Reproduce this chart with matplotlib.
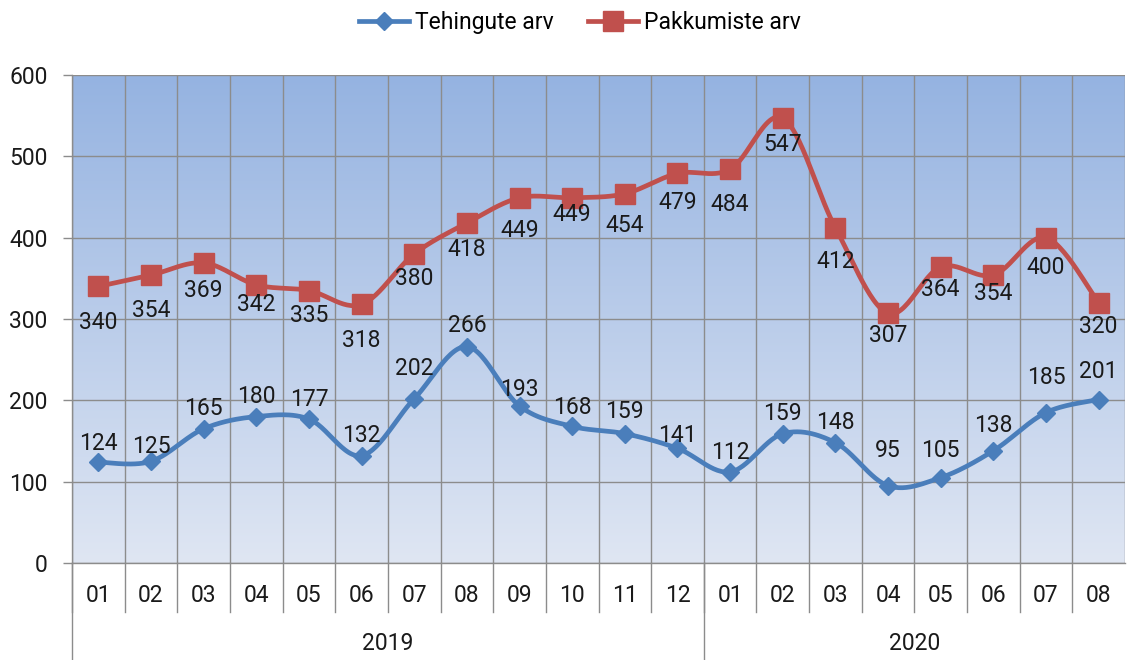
import matplotlib
matplotlib.use("Agg")
import matplotlib.pyplot as plt
import numpy as np
from matplotlib.colors import LinearSegmentedColormap
from matplotlib.lines import Line2D
import matplotlib.transforms as mtransforms

#===[DATA]===#
months = ["01", "02", "03", "04", "05", "06", "07", "08", "09", "10", "11", "12",
          "01", "02", "03", "04", "05", "06", "07", "08"]
years = ["2019", "2020"]
year_len = [12, 8]
tehingud = [124, 125, 165, 180, 177, 132, 202, 266, 193, 168, 159, 141,
            112, 159, 148, 95, 105, 138, 185, 201]
pakkumised = [340, 354, 369, 342, 335, 318, 380, 418, 449, 449, 454, 479,
              484, 547, 412, 307, 364, 354, 400, 320]

# label nudges in pixels (blue above, red below)
blue_off = [19, 15, 20, 20, 20, 20, 30, 21, 17, 19, 22, 13, 19, 20, 20, 35, 27, 25, 35, 28]
red_off = [36, 35, 28, 20, 25, 36, 25, 26, 33, 17, 32, 29, 35, 26, 34, 22, 23, 18, 30, 24]

BLUE = "#4a7ebb"
RED = "#c0504d"
GRID = "#8c8c8c"
plt.rcParams['font.family'] = ['Roboto', 'DejaVu Sans']
FS = 16.5


def smooth(x, y, n=30):  # excel style bezier smoothing (catmull-rom)
    pts = np.column_stack([x, y]).astype(float)
    out = []
    for i in range(len(pts) - 1):
        p0 = pts[i - 1] if i > 0 else pts[i]
        p1 = pts[i]
        p2 = pts[i + 1]
        p3 = pts[i + 2] if i + 2 < len(pts) else pts[i + 1]
        c1 = p1 + (p2 - p0) / 6
        c2 = p2 - (p3 - p1) / 6
        t = np.linspace(0, 1, n)[:, None]
        seg = ((1 - t) ** 3) * p1 + 3 * ((1 - t) ** 2) * t * c1 + 3 * (1 - t) * t ** 2 * c2 + t ** 3 * p2
        out.append(seg if i == 0 else seg[1:])
    out = np.vstack(out)
    return out[:, 0], out[:, 1]


fig = plt.figure(figsize=(11.37, 6.6), dpi=100)
ax = fig.add_axes([72 / 1137, 97 / 660, 1053 / 1137, 488 / 660])

x = np.arange(len(months))
ax.set_xlim(-0.5, len(months) - 0.5)
ax.set_ylim(0, 600)

# gradient background
cmap = LinearSegmentedColormap.from_list("bg", ["#dfe6f3", "#95b3e1"])
grad = np.linspace(0, 1, 256).reshape(-1, 1)
ax.imshow(grad, extent=[-0.5, len(months) - 0.5, 0, 600], aspect='auto',
          cmap=cmap, origin='lower', zorder=0)

# grid
ax.set_yticks(range(0, 601, 100))
ax.set_xticks(np.arange(-0.5, len(months), 1), minor=True)
ax.set_xticks([])
ax.grid(which='minor', axis='x', color=GRID, lw=1, zorder=1)
ax.grid(which='major', axis='y', color=GRID, lw=1, zorder=1)
ax.set_axisbelow(False)
ax.tick_params(axis='x', which='both', length=0)
ax.tick_params(axis='y', length=6.5, width=1, color=GRID, pad=11, labelsize=FS, labelcolor="#1a1a1a")
for s in ['top', 'right']:
    ax.spines[s].set_visible(False)
for s in ['left', 'bottom']:
    ax.spines[s].set_color(GRID)
    ax.spines[s].set_linewidth(1)

# lines
bx, by = smooth(x, tehingud)
rx, ry = smooth(x, pakkumised)
ax.plot(bx, by, color=BLUE, lw=3.4, zorder=3, solid_capstyle='round')
ax.plot(x, tehingud, ls='none', marker='D', ms=9, color=BLUE, zorder=4)
ax.plot(rx, ry, color=RED, lw=3.4, zorder=3, solid_capstyle='round')
ax.plot(x, pakkumised, ls='none', marker='s', ms=14, color=RED, zorder=4)

# data labels
for i, v in enumerate(tehingud):
    ax.annotate(str(v), (i, v), xytext=(0, blue_off[i] * 0.72), textcoords='offset points',
                ha='center', va='center', fontsize=FS, color="#1a1a1a", zorder=5)
for i, v in enumerate(pakkumised):
    ax.annotate(str(v), (i, v), xytext=(0, -red_off[i] * 0.72), textcoords='offset points',
                ha='center', va='center', fontsize=FS, color="#1a1a1a", zorder=5)

# two level category axis
trans = mtransforms.blended_transform_factory(ax.transData, ax.transAxes)
h = 488.0
for i, m in enumerate(months):
    ax.text(i, -32 / h, m, transform=trans, ha='center', va='center', fontsize=FS, color="#1a1a1a")
for k in range(len(months)):
    ax.add_line(Line2D([k - 0.5, k - 0.5], [0, -49 / h], transform=trans, color=GRID, lw=1, clip_on=False))
start = 0
for yr, n in zip(years, year_len):
    ax.text(start + n / 2 - 0.5, -80 / h, yr, transform=trans, ha='center', va='center',
            fontsize=FS, color="#1a1a1a")
    ax.add_line(Line2D([start - 0.5, start - 0.5], [0, -97 / h], transform=trans, color=GRID, lw=1, clip_on=False))
    start += n

# legend
handles = [Line2D([], [], color=BLUE, lw=3.4, marker='D', ms=9),
           Line2D([], [], color=RED, lw=3.4, marker='s', ms=14)]
fig.legend(handles, ["Tehingute arv", "Pakkumiste arv"], loc='center', bbox_to_anchor=(0.51, 0.966),
           ncol=2, frameon=False, fontsize=FS, handlelength=2.2, handletextpad=0.25, columnspacing=1.5)

fig.savefig("out.png", dpi=100)
